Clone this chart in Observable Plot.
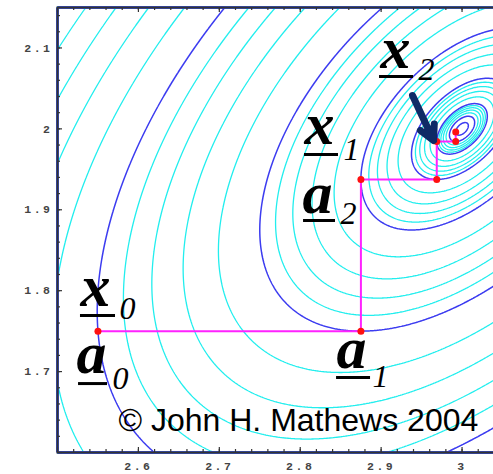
<!DOCTYPE html>
<html><head><meta charset="utf-8">
<script src="https://cdn.jsdelivr.net/npm/d3@7"></script>
<script src="https://cdn.jsdelivr.net/npm/@observablehq/plot@0.6"></script>
<style>
html,body{margin:0;padding:0;overflow:hidden;background:#fff;width:493px;height:474px}
#chart{width:503px;height:474px;overflow:hidden}
#chart svg{display:block;max-width:none !important;width:503px !important;height:474px !important}
#chart g[aria-label="x-axis tick label"] text, #chart g[aria-label="y-axis tick label"] text{letter-spacing:2.5px}
</style>
</head><body><div id="chart"></div>
<script>
// Function whose level curves are drawn: f(x,y) = x^2 - 4x + y^2 - y - xy (minimum at (3,2))
const f = (x, y) => x * x - 4 * x + y * y - y - x * y;

// Level values of the blue contours (through the iterates)
const blueLevels = [-6.8475, -6.953125, -6.988281, -6.997070, -6.999268, -6.999817, -6.999954];
// Level values of the cyan contours
const cyanLevels = [
  -6.6915, -6.7305, -6.7695, -6.8085,
  -6.868625, -6.88975, -6.910875, -6.932,
  -6.960156, -6.967188, -6.974219, -6.98125,
  -6.990039, -6.991797, -6.993555, -6.995313,
  -6.997510, -6.997949, -6.998389, -6.998828,
  -6.999377, -6.999487, -6.999597, -6.999707
];

// Iterates of the cyclic coordinate search
const pathX = [2.55, 2.875, 2.875, 2.96875, 2.96875, 2.9921875, 2.9921875];
const pathY = [1.75, 1.75, 1.9375, 1.9375, 1.984375, 1.984375, 1.99609375];

// Axis ticks
const xTickLabels = [2.6, 2.7, 2.8, 2.9, 3];
const yTickLabels = [1.7, 1.8, 1.9, 2, 2.1];
const xMajor = [2.5, 2.6, 2.7, 2.8, 2.9, 3.0];
const yMajor = [1.6, 1.7, 1.8, 1.9, 2.0, 2.1];
const xMinor = d3.range(2.52, 3.05, 0.02);
const yMinor = d3.range(1.62, 2.15, 0.02);

// Annotation labels
const labelLetter = ["x", "a", "a", "x", "a", "x"];
const labelX = [2.5284, 2.5235, 2.8449, 2.8053, 2.8028, 2.8993];
const labelY = [1.7816, 1.6988, 1.7050, 1.9819, 1.8966, 2.0758];
const subText = ["0", "0", "1", "1", "2", "2"];
const subX = [2.5766, 2.5680, 2.8894, 2.8535, 2.8498, 2.9462];
const subY = [1.7656, 1.6790, 1.6815, 1.9609, 1.8830, 2.0598];
const ulX1 = [2.5284, 2.5260, 2.8449, 2.8053, 2.8041, 2.8980];
const ulX2 = [2.5717, 2.5618, 2.8869, 2.8473, 2.8436, 2.9400];
const ulY = [1.7693, 1.6852, 1.6926, 1.9683, 1.8867, 2.0647];

const arrowFrom = [2.9388, 2.0412];
const arrowTo = [2.9648, 1.9856];
const copyright = "© John H. Mathews 2004";
const copyrightPos = [2.5754, 1.6271];

const pts = pathX.map((x, i) => ({x, y: pathY[i]}));
const labels = labelLetter.map((t, i) => ({t, x: labelX[i], y: labelY[i]}));
const subs = subText.map((t, i) => ({t, x: subX[i], y: subY[i]}));
const uls = ulY.map((y, i) => ({x1: ulX1[i], x2: ulX2[i], y}));

const W = 503, H = 474, mL = 57, mR = 1, mT = 7, mB = 22;
const PW = W - mL - mR, PH = H - mT - mB;
const axisColor = "#333";

const chart = Plot.plot({
  width: W, height: H,
  marginLeft: mL, marginRight: mR, marginTop: mT, marginBottom: mB,
  x: {domain: [2.5, 3.05]},
  y: {domain: [1.6, 2.15]},
  style: {background: "#fff"},
  marks: [
    Plot.contour(null, {value: f, x1: 2.5, x2: 3.05, y1: 1.6, y2: 2.15, pixelSize: 1,
      thresholds: cyanLevels, stroke: "#22eeee", strokeWidth: 1.3, fill: "none"}),
    Plot.contour(null, {value: f, x1: 2.5, x2: 3.05, y1: 1.6, y2: 2.15, pixelSize: 1,
      thresholds: blueLevels, stroke: "#3c3cf0", strokeWidth: 1.5, fill: "none"}),
    Plot.line(pts, {x: "x", y: "y", stroke: "#ff22ff", strokeWidth: 2}),
    Plot.dot(pts, {x: "x", y: "y", r: 3.5, fill: "#ff1010"}),
    Plot.arrow([0], {x1: arrowFrom[0], y1: arrowFrom[1], x2: arrowTo[0], y2: arrowTo[1],
      stroke: "#0f2a66", strokeWidth: 7, headLength: 14, headAngle: 55}),
    Plot.text(labels, {x: "x", y: "y", text: "t", textAnchor: "start", lineAnchor: "bottom",
      fontSize: 60, fontWeight: "bold", fontStyle: "italic", fontFamily: "Liberation Serif", fill: "#000"}),
    Plot.text(subs, {x: "x", y: "y", text: "t", textAnchor: "start", lineAnchor: "bottom",
      fontSize: 32, fontStyle: "italic", fontFamily: "Liberation Serif", fill: "#000"}),
    Plot.ruleY(uls, {x1: "x1", x2: "x2", y: "y", stroke: "#000", strokeWidth: 3}),
    Plot.text([copyright], {x: copyrightPos[0], y: copyrightPos[1], text: d => d, textAnchor: "start",
      lineAnchor: "bottom", fontSize: 32, fontFamily: "Liberation Sans", fill: "#000"}),
    // ticks inside the frame
    Plot.tickX(xMajor, {x: d => d, insetTop: PH - 5, stroke: axisColor, strokeWidth: 1.2}),
    Plot.tickX(xMinor, {x: d => d, insetTop: PH - 3, stroke: axisColor, strokeWidth: 1.2}),
    Plot.tickX(xMajor, {x: d => d, insetBottom: PH - 5, stroke: axisColor, strokeWidth: 1.2}),
    Plot.tickX(xMinor, {x: d => d, insetBottom: PH - 3, stroke: axisColor, strokeWidth: 1.2}),
    Plot.tickY(yMajor, {y: d => d, insetRight: PW - 5, stroke: axisColor, strokeWidth: 1.2}),
    Plot.tickY(yMinor, {y: d => d, insetRight: PW - 3, stroke: axisColor, strokeWidth: 1.2}),
    Plot.frame({stroke: axisColor, strokeWidth: 2}),
    Plot.axisX(xTickLabels, {tickSize: 0, tickPadding: 9, tickFormat: d => String(d),
      fontSize: 11.5, fontWeight: "bold", fontFamily: "Liberation Mono", fill: "#444", label: null}),
    Plot.axisY(yTickLabels, {tickSize: 0, tickPadding: 5, tickFormat: d => String(d),
      fontSize: 11.5, fontWeight: "bold", fontFamily: "Liberation Mono", fill: "#444", label: null})
  ]
});
document.getElementById("chart").appendChild(chart);
</script></body></html>
